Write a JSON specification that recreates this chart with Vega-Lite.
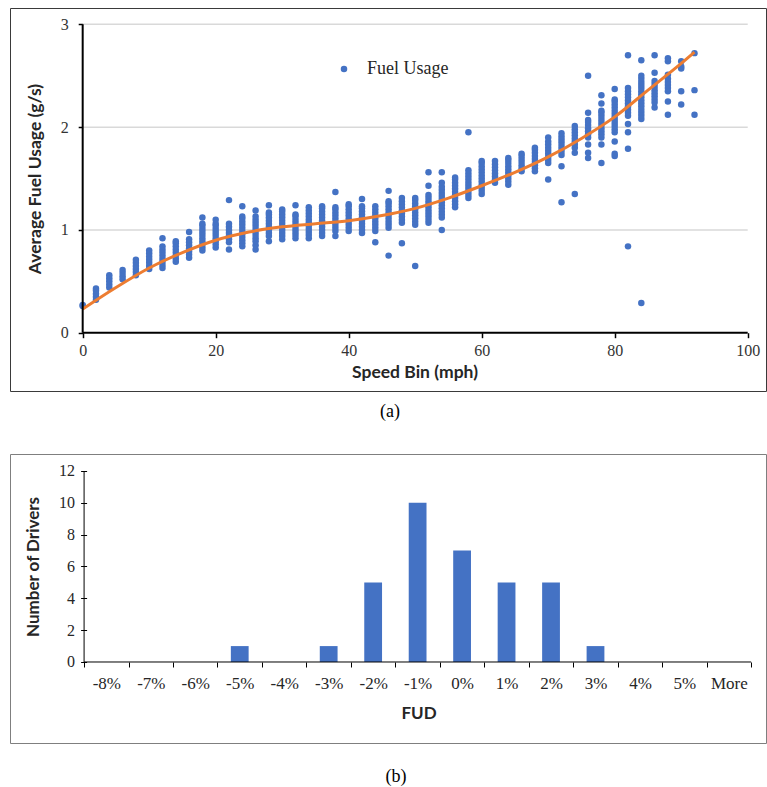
{
"$schema": "https://vega.github.io/schema/vega-lite/v6.json",
"padding": {"left": 9, "top": 7, "right": 0, "bottom": 0},
"bounds": "flush",
"spacing": 63,
"config": {
  "view": {"stroke": "#404040", "strokeWidth": 1},
  "axis": {"labelFont": "Liberation Serif", "labelColor": "#333333", "titleFont": "Lato", "titleFontWeight": "bold", "titleColor": "#262626", "tickColor": "#000000", "domain": false, "grid": false},
  "title": {"font": "Liberation Serif", "fontWeight": "normal", "color": "#000000", "fontSize": 18}
},
"datasets": {
  "scatter": [
{"speed":0,"fuel":0.26},{"speed":0,"fuel":0.27},
{"speed":2,"fuel":0.32},{"speed":2,"fuel":0.35},{"speed":2,"fuel":0.38},{"speed":2,"fuel":0.41},{"speed":2,"fuel":0.43},
{"speed":4,"fuel":0.44},{"speed":4,"fuel":0.47},{"speed":4,"fuel":0.5},{"speed":4,"fuel":0.53},{"speed":4,"fuel":0.56},
{"speed":6,"fuel":0.52},{"speed":6,"fuel":0.55},{"speed":6,"fuel":0.58},{"speed":6,"fuel":0.61},
{"speed":8,"fuel":0.56},{"speed":8,"fuel":0.59},{"speed":8,"fuel":0.62},{"speed":8,"fuel":0.65},{"speed":8,"fuel":0.68},{"speed":8,"fuel":0.71},
{"speed":10,"fuel":0.62},{"speed":10,"fuel":0.65},{"speed":10,"fuel":0.68},{"speed":10,"fuel":0.71},{"speed":10,"fuel":0.74},{"speed":10,"fuel":0.77},{"speed":10,"fuel":0.8},
{"speed":12,"fuel":0.63},{"speed":12,"fuel":0.66},{"speed":12,"fuel":0.69},{"speed":12,"fuel":0.72},{"speed":12,"fuel":0.75},{"speed":12,"fuel":0.78},{"speed":12,"fuel":0.81},{"speed":12,"fuel":0.84},{"speed":12,"fuel":0.92},
{"speed":14,"fuel":0.69},{"speed":14,"fuel":0.72},{"speed":14,"fuel":0.75},{"speed":14,"fuel":0.78},{"speed":14,"fuel":0.81},{"speed":14,"fuel":0.84},{"speed":14,"fuel":0.87},{"speed":14,"fuel":0.89},
{"speed":16,"fuel":0.73},{"speed":16,"fuel":0.76},{"speed":16,"fuel":0.79},{"speed":16,"fuel":0.82},{"speed":16,"fuel":0.85},{"speed":16,"fuel":0.88},{"speed":16,"fuel":0.91},{"speed":16,"fuel":0.98},
{"speed":18,"fuel":0.8},{"speed":18,"fuel":0.83},{"speed":18,"fuel":0.86},{"speed":18,"fuel":0.89},{"speed":18,"fuel":0.92},{"speed":18,"fuel":0.95},{"speed":18,"fuel":0.98},{"speed":18,"fuel":1.01},{"speed":18,"fuel":1.04},{"speed":18,"fuel":1.06},{"speed":18,"fuel":1.12},
{"speed":20,"fuel":0.83},{"speed":20,"fuel":0.86},{"speed":20,"fuel":0.89},{"speed":20,"fuel":0.92},{"speed":20,"fuel":0.95},{"speed":20,"fuel":0.98},{"speed":20,"fuel":1.01},{"speed":20,"fuel":1.04},{"speed":20,"fuel":1.06},{"speed":20,"fuel":1.1},
{"speed":22,"fuel":0.81},{"speed":22,"fuel":0.88},{"speed":22,"fuel":0.91},{"speed":22,"fuel":0.94},{"speed":22,"fuel":0.97},{"speed":22,"fuel":1.0},{"speed":22,"fuel":1.03},{"speed":22,"fuel":1.06},{"speed":22,"fuel":1.29},
{"speed":24,"fuel":0.84},{"speed":24,"fuel":0.87},{"speed":24,"fuel":0.9},{"speed":24,"fuel":0.93},{"speed":24,"fuel":0.96},{"speed":24,"fuel":0.99},{"speed":24,"fuel":1.02},{"speed":24,"fuel":1.05},{"speed":24,"fuel":1.08},{"speed":24,"fuel":1.11},{"speed":24,"fuel":1.13},{"speed":24,"fuel":1.23},
{"speed":26,"fuel":0.81},{"speed":26,"fuel":0.85},{"speed":26,"fuel":0.89},{"speed":26,"fuel":0.92},{"speed":26,"fuel":0.95},{"speed":26,"fuel":0.98},{"speed":26,"fuel":1.01},{"speed":26,"fuel":1.04},{"speed":26,"fuel":1.07},{"speed":26,"fuel":1.1},{"speed":26,"fuel":1.13},{"speed":26,"fuel":1.19},
{"speed":28,"fuel":0.89},{"speed":28,"fuel":0.94},{"speed":28,"fuel":0.97},{"speed":28,"fuel":1.0},{"speed":28,"fuel":1.03},{"speed":28,"fuel":1.06},{"speed":28,"fuel":1.09},{"speed":28,"fuel":1.12},{"speed":28,"fuel":1.15},{"speed":28,"fuel":1.17},{"speed":28,"fuel":1.24},
{"speed":30,"fuel":0.91},{"speed":30,"fuel":0.94},{"speed":30,"fuel":0.97},{"speed":30,"fuel":1.0},{"speed":30,"fuel":1.03},{"speed":30,"fuel":1.06},{"speed":30,"fuel":1.09},{"speed":30,"fuel":1.12},{"speed":30,"fuel":1.15},{"speed":30,"fuel":1.18},{"speed":30,"fuel":1.2},
{"speed":32,"fuel":0.92},{"speed":32,"fuel":0.95},{"speed":32,"fuel":0.98},{"speed":32,"fuel":1.01},{"speed":32,"fuel":1.04},{"speed":32,"fuel":1.07},{"speed":32,"fuel":1.1},{"speed":32,"fuel":1.13},{"speed":32,"fuel":1.15},{"speed":32,"fuel":1.24},
{"speed":34,"fuel":0.92},{"speed":34,"fuel":0.95},{"speed":34,"fuel":0.98},{"speed":34,"fuel":1.01},{"speed":34,"fuel":1.04},{"speed":34,"fuel":1.07},{"speed":34,"fuel":1.1},{"speed":34,"fuel":1.13},{"speed":34,"fuel":1.16},{"speed":34,"fuel":1.19},{"speed":34,"fuel":1.22},
{"speed":36,"fuel":0.94},{"speed":36,"fuel":0.97},{"speed":36,"fuel":1.0},{"speed":36,"fuel":1.03},{"speed":36,"fuel":1.06},{"speed":36,"fuel":1.09},{"speed":36,"fuel":1.12},{"speed":36,"fuel":1.15},{"speed":36,"fuel":1.18},{"speed":36,"fuel":1.21},{"speed":36,"fuel":1.23},
{"speed":38,"fuel":0.94},{"speed":38,"fuel":0.99},{"speed":38,"fuel":1.02},{"speed":38,"fuel":1.05},{"speed":38,"fuel":1.08},{"speed":38,"fuel":1.11},{"speed":38,"fuel":1.14},{"speed":38,"fuel":1.17},{"speed":38,"fuel":1.2},{"speed":38,"fuel":1.22},{"speed":38,"fuel":1.37},
{"speed":40,"fuel":0.99},{"speed":40,"fuel":1.02},{"speed":40,"fuel":1.05},{"speed":40,"fuel":1.08},{"speed":40,"fuel":1.11},{"speed":40,"fuel":1.14},{"speed":40,"fuel":1.17},{"speed":40,"fuel":1.2},{"speed":40,"fuel":1.23},{"speed":40,"fuel":1.25},
{"speed":42,"fuel":0.97},{"speed":42,"fuel":1.0},{"speed":42,"fuel":1.03},{"speed":42,"fuel":1.06},{"speed":42,"fuel":1.09},{"speed":42,"fuel":1.12},{"speed":42,"fuel":1.15},{"speed":42,"fuel":1.18},{"speed":42,"fuel":1.21},{"speed":42,"fuel":1.23},{"speed":42,"fuel":1.3},
{"speed":44,"fuel":0.88},{"speed":44,"fuel":0.99},{"speed":44,"fuel":1.02},{"speed":44,"fuel":1.05},{"speed":44,"fuel":1.08},{"speed":44,"fuel":1.11},{"speed":44,"fuel":1.14},{"speed":44,"fuel":1.17},{"speed":44,"fuel":1.2},{"speed":44,"fuel":1.23},
{"speed":46,"fuel":0.75},{"speed":46,"fuel":1.02},{"speed":46,"fuel":1.05},{"speed":46,"fuel":1.08},{"speed":46,"fuel":1.11},{"speed":46,"fuel":1.14},{"speed":46,"fuel":1.17},{"speed":46,"fuel":1.2},{"speed":46,"fuel":1.23},{"speed":46,"fuel":1.26},{"speed":46,"fuel":1.28},{"speed":46,"fuel":1.38},
{"speed":48,"fuel":0.87},{"speed":48,"fuel":1.07},{"speed":48,"fuel":1.1},{"speed":48,"fuel":1.13},{"speed":48,"fuel":1.16},{"speed":48,"fuel":1.19},{"speed":48,"fuel":1.22},{"speed":48,"fuel":1.25},{"speed":48,"fuel":1.28},{"speed":48,"fuel":1.31},
{"speed":50,"fuel":0.65},{"speed":50,"fuel":1.05},{"speed":50,"fuel":1.08},{"speed":50,"fuel":1.11},{"speed":50,"fuel":1.14},{"speed":50,"fuel":1.17},{"speed":50,"fuel":1.2},{"speed":50,"fuel":1.23},{"speed":50,"fuel":1.26},{"speed":50,"fuel":1.29},{"speed":50,"fuel":1.31},
{"speed":52,"fuel":1.07},{"speed":52,"fuel":1.1},{"speed":52,"fuel":1.13},{"speed":52,"fuel":1.16},{"speed":52,"fuel":1.19},{"speed":52,"fuel":1.22},{"speed":52,"fuel":1.25},{"speed":52,"fuel":1.28},{"speed":52,"fuel":1.31},{"speed":52,"fuel":1.34},{"speed":52,"fuel":1.43},{"speed":52,"fuel":1.56},
{"speed":54,"fuel":1.0},{"speed":54,"fuel":1.12},{"speed":54,"fuel":1.15},{"speed":54,"fuel":1.18},{"speed":54,"fuel":1.21},{"speed":54,"fuel":1.24},{"speed":54,"fuel":1.27},{"speed":54,"fuel":1.3},{"speed":54,"fuel":1.33},{"speed":54,"fuel":1.36},{"speed":54,"fuel":1.39},{"speed":54,"fuel":1.42},{"speed":54,"fuel":1.46},{"speed":54,"fuel":1.56},
{"speed":56,"fuel":1.22},{"speed":56,"fuel":1.25},{"speed":56,"fuel":1.28},{"speed":56,"fuel":1.31},{"speed":56,"fuel":1.34},{"speed":56,"fuel":1.37},{"speed":56,"fuel":1.4},{"speed":56,"fuel":1.43},{"speed":56,"fuel":1.46},{"speed":56,"fuel":1.49},{"speed":56,"fuel":1.51},
{"speed":58,"fuel":1.31},{"speed":58,"fuel":1.34},{"speed":58,"fuel":1.37},{"speed":58,"fuel":1.4},{"speed":58,"fuel":1.43},{"speed":58,"fuel":1.46},{"speed":58,"fuel":1.49},{"speed":58,"fuel":1.52},{"speed":58,"fuel":1.55},{"speed":58,"fuel":1.58},{"speed":58,"fuel":1.95},
{"speed":60,"fuel":1.35},{"speed":60,"fuel":1.38},{"speed":60,"fuel":1.41},{"speed":60,"fuel":1.44},{"speed":60,"fuel":1.47},{"speed":60,"fuel":1.5},{"speed":60,"fuel":1.53},{"speed":60,"fuel":1.56},{"speed":60,"fuel":1.59},{"speed":60,"fuel":1.62},{"speed":60,"fuel":1.65},{"speed":60,"fuel":1.67},
{"speed":62,"fuel":1.46},{"speed":62,"fuel":1.49},{"speed":62,"fuel":1.52},{"speed":62,"fuel":1.55},{"speed":62,"fuel":1.58},{"speed":62,"fuel":1.61},{"speed":62,"fuel":1.64},{"speed":62,"fuel":1.67},
{"speed":64,"fuel":1.44},{"speed":64,"fuel":1.47},{"speed":64,"fuel":1.5},{"speed":64,"fuel":1.53},{"speed":64,"fuel":1.56},{"speed":64,"fuel":1.59},{"speed":64,"fuel":1.62},{"speed":64,"fuel":1.65},{"speed":64,"fuel":1.68},{"speed":64,"fuel":1.7},
{"speed":66,"fuel":1.57},{"speed":66,"fuel":1.6},{"speed":66,"fuel":1.63},{"speed":66,"fuel":1.66},{"speed":66,"fuel":1.69},{"speed":66,"fuel":1.72},{"speed":66,"fuel":1.74},
{"speed":68,"fuel":1.57},{"speed":68,"fuel":1.6},{"speed":68,"fuel":1.63},{"speed":68,"fuel":1.66},{"speed":68,"fuel":1.69},{"speed":68,"fuel":1.72},{"speed":68,"fuel":1.75},{"speed":68,"fuel":1.78},{"speed":68,"fuel":1.8},
{"speed":70,"fuel":1.49},{"speed":70,"fuel":1.65},{"speed":70,"fuel":1.68},{"speed":70,"fuel":1.71},{"speed":70,"fuel":1.74},{"speed":70,"fuel":1.77},{"speed":70,"fuel":1.8},{"speed":70,"fuel":1.83},{"speed":70,"fuel":1.86},{"speed":70,"fuel":1.9},
{"speed":72,"fuel":1.27},{"speed":72,"fuel":1.62},{"speed":72,"fuel":1.73},{"speed":72,"fuel":1.76},{"speed":72,"fuel":1.79},{"speed":72,"fuel":1.82},{"speed":72,"fuel":1.85},{"speed":72,"fuel":1.88},{"speed":72,"fuel":1.91},{"speed":72,"fuel":1.94},
{"speed":74,"fuel":1.35},{"speed":74,"fuel":1.75},{"speed":74,"fuel":1.8},{"speed":74,"fuel":1.83},{"speed":74,"fuel":1.86},{"speed":74,"fuel":1.89},{"speed":74,"fuel":1.92},{"speed":74,"fuel":1.95},{"speed":74,"fuel":1.98},{"speed":74,"fuel":2.01},
{"speed":76,"fuel":1.7},{"speed":76,"fuel":1.75},{"speed":76,"fuel":1.83},{"speed":76,"fuel":1.9},{"speed":76,"fuel":1.93},{"speed":76,"fuel":1.96},{"speed":76,"fuel":1.99},{"speed":76,"fuel":2.02},{"speed":76,"fuel":2.05},{"speed":76,"fuel":2.07},{"speed":76,"fuel":2.14},{"speed":76,"fuel":2.5},
{"speed":78,"fuel":1.65},{"speed":78,"fuel":1.83},{"speed":78,"fuel":1.9},{"speed":78,"fuel":1.93},{"speed":78,"fuel":1.96},{"speed":78,"fuel":1.99},{"speed":78,"fuel":2.02},{"speed":78,"fuel":2.05},{"speed":78,"fuel":2.08},{"speed":78,"fuel":2.11},{"speed":78,"fuel":2.14},{"speed":78,"fuel":2.16},{"speed":78,"fuel":2.23},{"speed":78,"fuel":2.31},
{"speed":80,"fuel":1.72},{"speed":80,"fuel":1.74},{"speed":80,"fuel":1.86},{"speed":80,"fuel":1.95},{"speed":80,"fuel":1.98},{"speed":80,"fuel":2.01},{"speed":80,"fuel":2.04},{"speed":80,"fuel":2.07},{"speed":80,"fuel":2.1},{"speed":80,"fuel":2.13},{"speed":80,"fuel":2.16},{"speed":80,"fuel":2.19},{"speed":80,"fuel":2.22},{"speed":80,"fuel":2.25},{"speed":80,"fuel":2.27},{"speed":80,"fuel":2.37},
{"speed":82,"fuel":0.84},{"speed":82,"fuel":1.79},{"speed":82,"fuel":1.95},{"speed":82,"fuel":2.03},{"speed":82,"fuel":2.11},{"speed":82,"fuel":2.14},{"speed":82,"fuel":2.17},{"speed":82,"fuel":2.2},{"speed":82,"fuel":2.23},{"speed":82,"fuel":2.26},{"speed":82,"fuel":2.29},{"speed":82,"fuel":2.32},{"speed":82,"fuel":2.35},{"speed":82,"fuel":2.38},{"speed":82,"fuel":2.7},
{"speed":84,"fuel":0.29},{"speed":84,"fuel":2.08},{"speed":84,"fuel":2.11},{"speed":84,"fuel":2.14},{"speed":84,"fuel":2.17},{"speed":84,"fuel":2.2},{"speed":84,"fuel":2.23},{"speed":84,"fuel":2.26},{"speed":84,"fuel":2.29},{"speed":84,"fuel":2.32},{"speed":84,"fuel":2.35},{"speed":84,"fuel":2.38},{"speed":84,"fuel":2.41},{"speed":84,"fuel":2.44},{"speed":84,"fuel":2.47},{"speed":84,"fuel":2.5},{"speed":84,"fuel":2.65},
{"speed":86,"fuel":2.19},{"speed":86,"fuel":2.24},{"speed":86,"fuel":2.27},{"speed":86,"fuel":2.3},{"speed":86,"fuel":2.33},{"speed":86,"fuel":2.36},{"speed":86,"fuel":2.39},{"speed":86,"fuel":2.42},{"speed":86,"fuel":2.45},{"speed":86,"fuel":2.53},{"speed":86,"fuel":2.7},
{"speed":88,"fuel":2.12},{"speed":88,"fuel":2.25},{"speed":88,"fuel":2.35},{"speed":88,"fuel":2.38},{"speed":88,"fuel":2.41},{"speed":88,"fuel":2.44},{"speed":88,"fuel":2.47},{"speed":88,"fuel":2.51},{"speed":88,"fuel":2.64},{"speed":88,"fuel":2.67},
{"speed":90,"fuel":2.22},{"speed":90,"fuel":2.35},{"speed":90,"fuel":2.57},{"speed":90,"fuel":2.59},{"speed":90,"fuel":2.64},
{"speed":92,"fuel":2.12},{"speed":92,"fuel":2.36},{"speed":92,"fuel":2.72}
  ],
  "trend": [
{"speed":0,"fuel":0.23},{"speed":5,"fuel":0.44},{"speed":10,"fuel":0.63},{"speed":15,"fuel":0.78},{"speed":20,"fuel":0.9},{"speed":25,"fuel":0.98},{"speed":30,"fuel":1.03},{"speed":35,"fuel":1.06},{"speed":40,"fuel":1.09},{"speed":45,"fuel":1.14},{"speed":50,"fuel":1.21},{"speed":55,"fuel":1.31},{"speed":60,"fuel":1.43},{"speed":65,"fuel":1.56},{"speed":70,"fuel":1.71},{"speed":75,"fuel":1.89},{"speed":80,"fuel":2.1},{"speed":85,"fuel":2.36},{"speed":90,"fuel":2.62},{"speed":92,"fuel":2.73}
  ],
  "grid": [{"fuel":1},{"fuel":2},{"fuel":3}],
  "hist": [
{"bin":"-8%","count":0},{"bin":"-7%","count":0},{"bin":"-6%","count":0},{"bin":"-5%","count":1},{"bin":"-4%","count":0},{"bin":"-3%","count":1},{"bin":"-2%","count":5},{"bin":"-1%","count":10},{"bin":"0%","count":7},{"bin":"1%","count":5},{"bin":"2%","count":5},{"bin":"3%","count":1},{"bin":"4%","count":0},{"bin":"5%","count":0},{"bin":"More","count":0}
  ],
  "one": [{}]
},
"vconcat": [
  {
    "width": 756,
    "height": 383,
    "view": {"stroke": "#3a3a3a"},
    "title": {"text": "(a)", "orient": "bottom", "frame": "group", "anchor": "middle", "offset": 12, "dx": 2, "baseline": "top"},
    "layer": [
      {
        "data": {"name": "grid"},
        "mark": {"type": "rule", "color": "#D9D9D9", "strokeWidth": 1.5},
        "encoding": {
          "y": {"field": "fuel", "type": "quantitative"},
          "x": {"datum": 0, "type": "quantitative"},
          "x2": {"datum": 100}
        }
      },
      {
        "data": {"name": "scatter"},
        "mark": {"type": "circle", "size": 42, "opacity": 1},
        "encoding": {
          "x": {"field": "speed", "type": "quantitative",
                "scale": {"domain": [-10.93, 102.75], "nice": false, "zero": false},
                "axis": {"orient": "bottom", "offset": -58.3, "values": [0, 20, 40, 60, 80, 100], "format": "d", "tickSize": 5, "tickWidth": 1.5, "labelFontSize": 16, "labelPadding": 5,
                         "title": "Speed Bin (mph)", "titleFontSize": 17.5, "titleX": 404.5, "titleY": 45, "titleBaseline": "alphabetic", "titleAlign": "center"}},
          "y": {"field": "fuel", "type": "quantitative",
                "scale": {"domain": [-0.567, 3.159], "nice": false, "zero": false},
                "axis": {"orient": "left", "offset": -72.7, "values": [0, 1, 2, 3], "format": "d", "tickSize": 4.5, "tickWidth": 1.5, "labelFontSize": 16, "labelPadding": 10,
                         "title": "Average Fuel Usage (g/s)", "titleFontSize": 17.5, "titleX": -41.7, "titleY": 170.5, "titleAngle": -90, "titleBaseline": "alphabetic", "titleAlign": "center"}},
          "color": {"datum": "Fuel Usage", "type": "nominal", "scale": {"range": ["#4472C4"]},
                    "legend": {"orient": "none", "legendX": 325, "legendY": 52, "title": null, "padding": 0, "labelFont": "Liberation Serif", "labelFontSize": 18, "labelColor": "#262626", "symbolSize": 42, "symbolType": "circle", "labelOffset": 14}}
        }
      },
      {
        "data": {"name": "trend"},
        "mark": {"type": "line", "color": "#ED7D31", "strokeWidth": 3, "interpolate": "monotone"},
        "encoding": {
          "x": {"field": "speed", "type": "quantitative"},
          "y": {"field": "fuel", "type": "quantitative"}
        }
      },
      {
        "data": {"name": "one"},
        "mark": {"type": "rule", "color": "#000000", "strokeWidth": 2},
        "encoding": {
          "x": {"datum": 0, "type": "quantitative"},
          "x2": {"datum": 100},
          "y": {"datum": 0, "type": "quantitative"}
        }
      },
      {
        "data": {"name": "one"},
        "mark": {"type": "rule", "color": "#000000", "strokeWidth": 2},
        "encoding": {
          "x": {"datum": 0, "type": "quantitative"},
          "y": {"datum": 0, "type": "quantitative"},
          "y2": {"datum": 3}
        }
      }
    ]
  },
  {
    "width": 756,
    "height": 289,
    "view": {"stroke": "#7f7f7f"},
    "title": {"text": "(b)", "orient": "bottom", "frame": "group", "anchor": "middle", "offset": 25, "dx": 8, "baseline": "top"},
    "layer": [
      {
        "data": {"name": "hist"},
        "mark": {"type": "bar", "color": "#4472C4", "width": {"band": 0.4}},
        "encoding": {
          "x": {"field": "bin", "type": "nominal", "sort": null,
                "scale": {"domain": ["-8%","-7%","-6%","-5%","-4%","-3%","-2%","-1%","0%","1%","2%","3%","4%","5%","More"], "paddingInner": 0, "paddingOuter": 1.039, "align": 0.833},
                "axis": {"orient": "bottom", "offset": -81, "tickBand": "extent", "tickSize": 5, "labelAngle": 0, "labelFontSize": 17, "labelPadding": 8, "labelColor": "#262626",
                         "title": "FUD", "titleFontSize": 17, "titleX": 408.5, "titleY": 56, "titleBaseline": "alphabetic", "titleAlign": "center"}},
          "y": {"field": "count", "type": "quantitative",
                "scale": {"domain": [-5.089, 13.068], "nice": false, "zero": false},
                "axis": {"orient": "left", "offset": -76.6, "values": [0, 2, 4, 6, 8, 10, 12], "tickSize": 6, "labelFontSize": 16, "labelPadding": 6, "labelColor": "#262626",
                         "title": "Number of Drivers", "titleFontSize": 17, "titleX": -48.6, "titleY": 112.5, "titleAngle": -90, "titleBaseline": "alphabetic", "titleAlign": "center"}}
        }
      },
      {
        "data": {"name": "one"},
        "mark": {"type": "rule", "color": "#000000", "strokeWidth": 1},
        "encoding": {
          "x": {"datum": "-8%", "type": "nominal", "bandPosition": 0},
          "x2": {"datum": "More", "bandPosition": 1},
          "y": {"datum": 0, "type": "quantitative"}
        }
      },
      {
        "data": {"name": "one"},
        "mark": {"type": "rule", "color": "#000000", "strokeWidth": 1},
        "encoding": {
          "x": {"datum": "-8%", "type": "nominal", "bandPosition": 0},
          "y": {"datum": 0, "type": "quantitative"},
          "y2": {"datum": 12}
        }
      }
    ]
  }
]
}
